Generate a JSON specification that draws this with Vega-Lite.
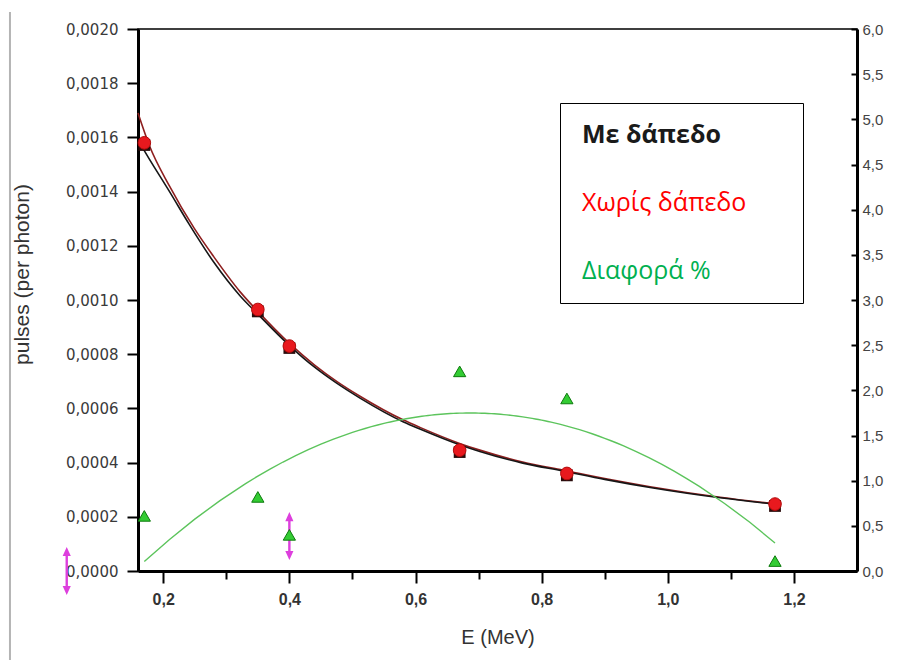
{
  "$schema": "https://vega.github.io/schema/vega-lite/v6.json",
  "width": 719,
  "height": 542,
  "autosize": {"type": "none"},
  "padding": {"left": 138, "top": 29, "right": 46, "bottom": 89},
  "background": "white",
  "config": {
    "view": {"stroke": "#000", "strokeWidth": 1.5},
    "axis": {"grid": false, "labelOverlap": false, "labelFlush": false},
    "font": "Liberation Sans"
  },
  "datasets": {
    "points": [
      {"E": 0.17, "pulses": 0.001572, "series": "Με δάπεδο"},
      {"E": 0.35, "pulses": 0.000958, "series": "Με δάπεδο"},
      {"E": 0.40, "pulses": 0.000823, "series": "Με δάπεδο"},
      {"E": 0.67, "pulses": 0.000439, "series": "Με δάπεδο"},
      {"E": 0.84, "pulses": 0.000353, "series": "Με δάπεδο"},
      {"E": 1.17, "pulses": 0.000240, "series": "Με δάπεδο"},
      {"E": 0.17, "pulses": 0.00158, "series": "Χωρίς δάπεδο"},
      {"E": 0.35, "pulses": 0.000965, "series": "Χωρίς δάπεδο"},
      {"E": 0.40, "pulses": 0.00083, "series": "Χωρίς δάπεδο"},
      {"E": 0.67, "pulses": 0.000446, "series": "Χωρίς δάπεδο"},
      {"E": 0.84, "pulses": 0.00036, "series": "Χωρίς δάπεδο"},
      {"E": 1.17, "pulses": 0.000247, "series": "Χωρίς δάπεδο"}
    ],
    "diff": [
      {"E": 0.17, "diff": 0.61, "series": "Διαφορά %"},
      {"E": 0.35, "diff": 0.82, "series": "Διαφορά %"},
      {"E": 0.40, "diff": 0.40, "series": "Διαφορά %"},
      {"E": 0.67, "diff": 2.21, "series": "Διαφορά %"},
      {"E": 0.84, "diff": 1.91, "series": "Διαφορά %"},
      {"E": 1.17, "diff": 0.11, "series": "Διαφορά %"}
    ],
    "fits": [
      {"E": 0.16, "pulses": 0.00169, "series": "Χωρίς δάπεδο"},
      {"E": 0.178, "pulses": 0.00157, "series": "Χωρίς δάπεδο"},
      {"E": 0.21, "pulses": 0.00142, "series": "Χωρίς δάπεδο"},
      {"E": 0.249, "pulses": 0.001265, "series": "Χωρίς δάπεδο"},
      {"E": 0.28, "pulses": 0.00116, "series": "Χωρίς δάπεδο"},
      {"E": 0.322, "pulses": 0.00103, "series": "Χωρίς δάπεδο"},
      {"E": 0.35, "pulses": 0.000958, "series": "Χωρίς δάπεδο"},
      {"E": 0.401, "pulses": 0.000838, "series": "Χωρίς δάπεδο"},
      {"E": 0.44, "pulses": 0.00076, "series": "Χωρίς δάπεδο"},
      {"E": 0.475, "pulses": 0.0007, "series": "Χωρίς δάπεδο"},
      {"E": 0.512, "pulses": 0.000645, "series": "Χωρίς δάπεδο"},
      {"E": 0.581, "pulses": 0.000557, "series": "Χωρίς δάπεδο"},
      {"E": 0.607, "pulses": 0.00053, "series": "Χωρίς δάπεδο"},
      {"E": 0.671, "pulses": 0.00047, "series": "Χωρίς δάπεδο"},
      {"E": 0.702, "pulses": 0.000446, "series": "Χωρίς δάπεδο"},
      {"E": 0.77, "pulses": 0.000402, "series": "Χωρίς δάπεδο"},
      {"E": 0.834, "pulses": 0.000372, "series": "Χωρίς δάπεδο"},
      {"E": 0.9, "pulses": 0.000341, "series": "Χωρίς δάπεδο"},
      {"E": 0.972, "pulses": 0.000311, "series": "Χωρίς δάπεδο"},
      {"E": 1.083, "pulses": 0.000272, "series": "Χωρίς δάπεδο"},
      {"E": 1.172, "pulses": 0.000247, "series": "Χωρίς δάπεδο"},
      {"E": 0.16, "pulses": 0.00159, "series": "Με δάπεδο"},
      {"E": 0.178, "pulses": 0.00152, "series": "Με δάπεδο"},
      {"E": 0.21, "pulses": 0.0014, "series": "Με δάπεδο"},
      {"E": 0.241, "pulses": 0.00128, "series": "Με δάπεδο"},
      {"E": 0.28, "pulses": 0.00114, "series": "Με δάπεδο"},
      {"E": 0.322, "pulses": 0.001015, "series": "Με δάπεδο"},
      {"E": 0.35, "pulses": 0.000948, "series": "Με δάπεδο"},
      {"E": 0.401, "pulses": 0.00083, "series": "Με δάπεδο"},
      {"E": 0.44, "pulses": 0.000752, "series": "Με δάπεδο"},
      {"E": 0.475, "pulses": 0.000693, "series": "Με δάπεδο"},
      {"E": 0.512, "pulses": 0.000638, "series": "Με δάπεδο"},
      {"E": 0.581, "pulses": 0.00055, "series": "Με δάπεδο"},
      {"E": 0.607, "pulses": 0.000524, "series": "Με δάπεδο"},
      {"E": 0.671, "pulses": 0.000465, "series": "Με δάπεδο"},
      {"E": 0.702, "pulses": 0.000441, "series": "Με δάπεδο"},
      {"E": 0.77, "pulses": 0.000398, "series": "Με δάπεδο"},
      {"E": 0.834, "pulses": 0.000369, "series": "Με δάπεδο"},
      {"E": 0.9, "pulses": 0.000338, "series": "Με δάπεδο"},
      {"E": 0.972, "pulses": 0.000308, "series": "Με δάπεδο"},
      {"E": 1.083, "pulses": 0.00027, "series": "Με δάπεδο"},
      {"E": 1.172, "pulses": 0.000246, "series": "Με δάπεδο"}
    ],
    "markers": [
      {"E": 0.047, "pulses": 0.0},
      {"E": 0.40, "pulses": 0.000129}
    ],
    "border": [
      {"E": -0.043, "top": 0.002063, "bottom": -0.000328}
    ]
  },
  "layer": [
    {
      "layer": [
        {
          "data": {"name": "border"},
          "mark": {"type": "rule", "color": "#b4b4b4", "strokeWidth": 2},
          "encoding": {
            "x": {"field": "E", "type": "quantitative", "scale": {"domain": [0.16, 1.3], "nice": false, "zero": false}},
            "y": {"field": "top", "type": "quantitative", "scale": {"domain": [0, 0.002], "nice": false, "zero": false}},
            "y2": {"field": "bottom"}
          }
        },
        {
          "data": {"name": "fits"},
          "mark": {"type": "line", "strokeWidth": 1.6, "interpolate": "monotone"},
          "encoding": {
            "x": {
              "field": "E", "type": "quantitative",
              "scale": {"domain": [0.16, 1.3], "nice": false, "zero": false},
              "axis": {
                "orient": "bottom",
                "values": [0.2, 0.3, 0.4, 0.5, 0.6, 0.7, 0.8, 0.9, 1.0, 1.1, 1.2],
                "labelExpr": "round(datum.value*10) % 2 == 0 ? replace(format(datum.value, '.1f'), '.', ',') : ''",
                "tickSize": {"condition": {"test": "round(datum.value*10) % 2 == 0", "value": 12}, "value": 8},
                "tickWidth": 2, "tickColor": "#000",
                "domainColor": "#000", "domainWidth": 3,
                "labelFont": "Liberation Sans", "labelFontSize": 16, "labelFontWeight": "bold", "labelColor": "#333",
                "labelPadding": 8,
                "title": "E (MeV)", "titleFont": "Liberation Sans", "titleFontSize": 20, "titleFontWeight": "normal", "titleColor": "#333",
                "titleY": 72, "titleBaseline": "alphabetic"
              }
            },
            "y": {
              "field": "pulses", "type": "quantitative",
              "scale": {"domain": [0, 0.002], "nice": false, "zero": false},
              "axis": {
                "orient": "left",
                "values": [0, 0.0001, 0.0002, 0.0003, 0.0004, 0.0005, 0.0006, 0.0007, 0.0008, 0.0009, 0.001, 0.0011, 0.0012, 0.0013, 0.0014, 0.0015, 0.0016, 0.0017, 0.0018, 0.0019, 0.002],
                "labelExpr": "round(datum.value*10000) % 2 == 0 ? replace(format(datum.value, '.4f'), '.', ',') : ''",
                "tickSize": {"condition": {"test": "round(datum.value*10000) % 2 == 0", "value": 11}, "value": 6},
                "tickWidth": 2, "tickColor": "#000",
                "domainColor": "#000", "domainWidth": 3,
                "labelFont": "DejaVu Sans", "labelFontSize": 15, "labelColor": "#3a3a3a",
                "labelPadding": 9,
                "title": "pulses (per photon)", "titleFont": "Liberation Sans", "titleFontSize": 21, "titleFontWeight": "normal", "titleColor": "#333",
                "titleX": -116, "titleY": 245, "titleBaseline": "middle", "titleAngle": -90
              }
            },
            "stroke": {
              "field": "series", "type": "nominal",
              "scale": {"domain": ["Με δάπεδο", "Χωρίς δάπεδο"], "range": ["#161616", "#8e1f1f"]},
              "legend": null
            }
          }
        },
        {
          "data": {"name": "points"},
          "transform": [{"filter": "datum.series === 'Με δάπεδο'"}],
          "mark": {"type": "point", "shape": "square", "filled": true, "size": 140, "opacity": 1, "color": "#2a0c0c"},
          "encoding": {
            "x": {"field": "E", "type": "quantitative", "scale": {"domain": [0.16, 1.3], "nice": false, "zero": false}},
            "y": {"field": "pulses", "type": "quantitative", "scale": {"domain": [0, 0.002], "nice": false, "zero": false}}
          }
        },
        {
          "data": {"name": "points"},
          "transform": [{"filter": "datum.series === 'Χωρίς δάπεδο'"}],
          "mark": {"type": "point", "shape": "circle", "filled": true, "size": 160, "opacity": 1, "color": "#e8191e", "stroke": "#b30c0c", "strokeWidth": 1},
          "encoding": {
            "x": {"field": "E", "type": "quantitative", "scale": {"domain": [0.16, 1.3], "nice": false, "zero": false}},
            "y": {"field": "pulses", "type": "quantitative", "scale": {"domain": [0, 0.002], "nice": false, "zero": false}}
          }
        },
        {
          "data": {"name": "markers"},
          "mark": {
            "type": "point", "filled": true, "opacity": 1, "color": "#dd3fdd", "size": 2304,
            "shape": "M0,-1 L0.17,-0.62 L0.05,-0.62 L0.05,0.62 L0.17,0.62 L0,1 L-0.17,0.62 L-0.05,0.62 L-0.05,-0.62 L-0.17,-0.62 Z"
          },
          "encoding": {
            "x": {"field": "E", "type": "quantitative", "scale": {"domain": [0.16, 1.3], "nice": false, "zero": false}},
            "y": {"field": "pulses", "type": "quantitative", "scale": {"domain": [0, 0.002], "nice": false, "zero": false}}
          }
        }
      ]
    },
    {
      "layer": [
        {
          "data": {"name": "diff"},
          "transform": [{"regression": "diff", "on": "E", "method": "poly", "order": 2}],
          "mark": {"type": "line", "color": "#5cc45c", "strokeWidth": 1.4},
          "encoding": {
            "x": {"field": "E", "type": "quantitative", "scale": {"domain": [0.16, 1.3], "nice": false, "zero": false}},
            "y": {
              "field": "diff", "type": "quantitative",
              "scale": {"domain": [0, 6], "nice": false, "zero": false},
              "axis": {
                "orient": "right",
                "values": [0, 0.25, 0.5, 0.75, 1, 1.25, 1.5, 1.75, 2, 2.25, 2.5, 2.75, 3, 3.25, 3.5, 3.75, 4, 4.25, 4.5, 4.75, 5, 5.25, 5.5, 5.75, 6],
                "labelExpr": "round(datum.value*4) % 2 == 0 ? replace(format(datum.value, '.1f'), '.', ',') : ''",
                "tickSize": {"condition": {"test": "round(datum.value*4) % 2 == 0", "value": -6}, "value": -3},
                "tickWidth": 2, "tickColor": "#000",
                "domainColor": "#000", "domainWidth": 3,
                "labelFont": "Liberation Sans", "labelFontSize": 15, "labelColor": "#444",
                "labelPadding": 11,
                "title": null
              }
            }
          }
        },
        {
          "data": {"name": "diff"},
          "mark": {"type": "point", "shape": "triangle-up", "filled": true, "size": 150, "opacity": 1, "stroke": "#0d7a0d", "strokeWidth": 1},
          "encoding": {
            "x": {"field": "E", "type": "quantitative", "scale": {"domain": [0.16, 1.3], "nice": false, "zero": false}},
            "y": {"field": "diff", "type": "quantitative", "scale": {"domain": [0, 6], "nice": false, "zero": false}},
            "color": {
              "field": "series", "type": "nominal",
              "scale": {"domain": ["Με δάπεδο", "Χωρίς δάπεδο", "Διαφορά %"], "range": ["#2a0c0c", "#e8191e", "#33cc33"]},
              "legend": {
                "orient": "none", "legendX": 422, "legendY": 74,
                "title": null,
                "padding": 19,
                "strokeColor": "#000",
                "fillColor": "#fff",
                "symbolSize": 0, "symbolOpacity": 0, "symbolStrokeWidth": 0,
                "labelOffset": -22,
                "labelFont": "Open Sans", "labelFontSize": 25,
                "labelExpr": "datum.label + '\u2002\u2002\u2002\u200b'",
                "labelColor": {"expr": "datum.value === 'Χωρίς δάπεδο' ? '#ff0000' : datum.value === 'Διαφορά %' ? '#00b050' : '#1a1a1a'"},
                "labelFontWeight": {"expr": "datum.value === 'Με δάπεδο' ? 'bold' : 'normal'"},
                "rowPadding": 42,
                "labelLimit": 400
              }
            }
          }
        }
      ]
    }
  ],
  "resolve": {"scale": {"y": "independent"}}
}
